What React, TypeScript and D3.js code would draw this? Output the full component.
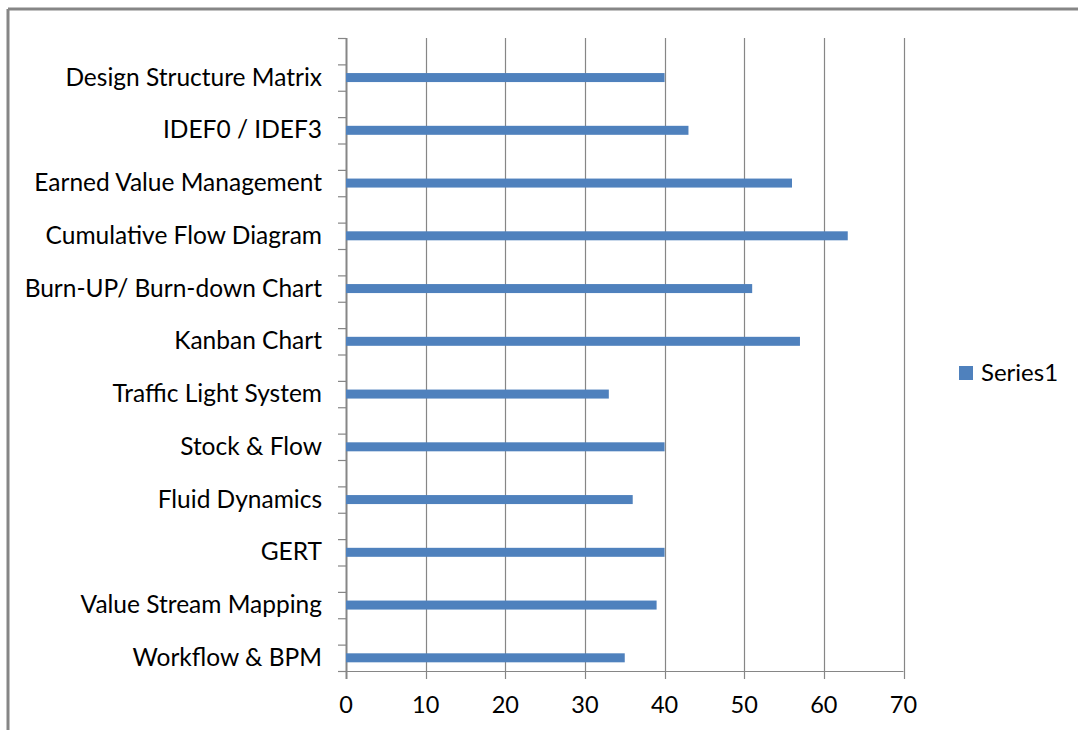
import React, { useEffect } from "react";
import * as d3 from "d3";

// Categories listed top to bottom as they appear on the vertical axis
const categories: string[] = [
  "Design Structure Matrix",
  "IDEF0 / IDEF3",
  "Earned Value Management",
  "Cumulative Flow Diagram",
  "Burn-UP/ Burn-down Chart",
  "Kanban Chart",
  "Traffic Light System",
  "Stock & Flow",
  "Fluid Dynamics",
  "GERT",
  "Value Stream Mapping",
  "Workflow & BPM",
];

const series1: number[] = [40, 43, 56, 63, 51, 57, 33, 40, 36, 40, 39, 35];

const xTicks: number[] = [0, 10, 20, 30, 40, 50, 60, 70];

const seriesName = "Series1";

const W = 1078;
const H = 731;
const FONT = "Lato, 'Open Sans', sans-serif";
const GRID = "#868686";
const BAR = "#4f81bd";

export default function App() {
  useEffect(() => {
    document.body.style.margin = "0";
  }, []);

  const plot = { left: 346, right: 903.5, top: 38, bottom: 671 };

  const x = d3.scaleLinear().domain([0, 70]).range([plot.left, plot.right]);
  const y = d3
    .scaleBand<string>()
    .domain(categories)
    .range([plot.top, plot.bottom])
    .paddingInner(0)
    .paddingOuter(0);

  const bw = y.bandwidth();
  const barH = 9;

  // Tick marks on the category axis: at each band edge and band middle
  const catTicks: number[] = [];
  categories.forEach((c) => {
    const y0 = y(c)!;
    catTicks.push(y0, y0 + bw / 2);
  });
  catTicks.push(plot.bottom);

  return (
    <svg width={W} height={H} style={{ display: "block", background: "#fff" }}>
      {/* outer chart frame */}
      <line x1={8} x2={W} y1={9} y2={9} stroke={GRID} strokeWidth={3} />
      <line x1={8} x2={8} y1={9} y2={730} stroke={GRID} strokeWidth={3} />

      {/* vertical gridlines + tick marks below the axis */}
      {xTicks.map((t) => (
        <line
          key={"g" + t}
          x1={Math.round(x(t)) + 0.5}
          x2={Math.round(x(t)) + 0.5}
          y1={plot.top}
          y2={plot.bottom + 8}
          stroke={GRID}
          strokeWidth={t === 0 ? 2 : 1.2}
        />
      ))}

      {/* horizontal value axis */}
      <line
        x1={plot.left - 8}
        x2={plot.right}
        y1={plot.bottom + 0.5}
        y2={plot.bottom + 0.5}
        stroke={GRID}
        strokeWidth={1.2}
      />

      {/* category tick marks */}
      {catTicks.map((t, i) => (
        <line
          key={"ct" + i}
          x1={plot.left - 8}
          x2={plot.left}
          y1={t + 0.5}
          y2={t + 0.5}
          stroke={GRID}
          strokeWidth={1.2}
        />
      ))}

      {/* bars */}
      {categories.map((c, i) => {
        const cy = y(c)! + bw * 0.75;
        return (
          <rect
            key={"b" + c}
            x={x(0)}
            y={cy - barH / 2}
            width={x(series1[i]) - x(0)}
            height={barH}
            fill={BAR}
          />
        );
      })}

      {/* category labels */}
      {categories.map((c) => (
        <text
          key={"l" + c}
          x={322}
          y={y(c)! + bw * 0.75 + 8}
          textAnchor="end"
          fontFamily={FONT}
          fontSize={24.5}
          fill="#000"
        >
          {c}
        </text>
      ))}

      {/* value tick labels */}
      {xTicks.map((t) => (
        <text
          key={"xl" + t}
          x={x(t)}
          y={712.5}
          textAnchor="middle"
          fontFamily={FONT}
          fontSize={23.5}
          fill="#000"
        >
          {t}
        </text>
      ))}

      {/* legend */}
      <rect x={959} y={366} width={14} height={14} fill={BAR} />
      <text x={981} y={380.5} fontFamily={FONT} fontSize={24} fill="#000">
        {seriesName}
      </text>
    </svg>
  );
}
